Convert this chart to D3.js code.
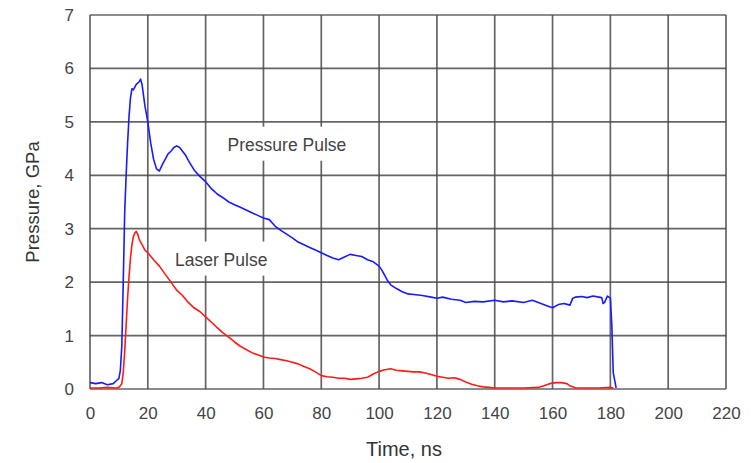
<!DOCTYPE html>
<html><head><meta charset="utf-8">
<script src="https://cdn.jsdelivr.net/npm/d3@7"></script>
<style>
html,body{margin:0;padding:0;background:#fff;}
svg{display:block;font-family:"Liberation Sans",Arial,sans-serif;}
</style></head>
<body><svg id="c" width="751" height="463"></svg>
<script>
const xTicks = [0,20,40,60,80,100,120,140,160,180,200,220];
const yTicks = [0,1,2,3,4,5,6,7];

const pressureT = [0,2,4,6,8,9,10,10.5,11,11.5,12,12.5,13,13.5,14,14.5,15,16,17,17.5,18,18.5,19,20,21,22,23,24,25,26,27,28,29,30,31,32,33,34,36,38,40,42,44,46,48,50,52,54,56,58,60,62,64,66,68,70,72,74,76,78,80,82,84,86,88,90,92,94,96,98,100,101,102,103,104,106,108,110,112,115,118,120,122,125,128,130,133,136,140,143,146,150,153,156,158,160,162,164,166,167,168,170,172,174,176,177,177.5,178,179,179.5,180,180.5,181,182];
const pressureP = [0.12,0.1,0.12,0.08,0.1,0.15,0.2,0.35,0.8,2.0,3.3,4.0,4.6,5.1,5.45,5.62,5.6,5.7,5.75,5.8,5.7,5.5,5.3,5.0,4.6,4.3,4.12,4.08,4.2,4.3,4.4,4.45,4.52,4.55,4.52,4.45,4.38,4.28,4.1,3.98,3.88,3.75,3.65,3.58,3.5,3.45,3.4,3.35,3.3,3.25,3.2,3.17,3.05,2.97,2.9,2.83,2.75,2.7,2.65,2.6,2.55,2.5,2.45,2.42,2.47,2.52,2.5,2.48,2.42,2.38,2.3,2.22,2.12,2.02,1.95,1.88,1.82,1.78,1.77,1.75,1.72,1.7,1.72,1.68,1.66,1.62,1.64,1.63,1.66,1.63,1.65,1.62,1.66,1.6,1.56,1.52,1.58,1.6,1.57,1.7,1.72,1.73,1.71,1.74,1.72,1.71,1.6,1.62,1.74,1.72,1.7,1.2,0.3,0.02,0];

const laserT = [0,3,6,9,10,11,11.5,12,12.5,13,13.5,14,14.5,15,15.5,16,16.5,17,18,19,20,22,24,26,28,30,32,34,36,38,40,42,44,46,48,50,52,54,56,58,60,62,64,66,68,70,72,74,76,78,80,82,84,86,88,90,92,94,96,98,100,102,104,106,108,110,112,114,116,118,120,122,124,126,128,130,132,134,136,138,140,145,150,155,157,159,161,163,165,166,168,172,176,180,181];
const laserP = [0.02,0.02,0.03,0.02,0.03,0.1,0.3,0.7,1.2,1.7,2.1,2.45,2.7,2.85,2.92,2.95,2.9,2.8,2.7,2.6,2.55,2.42,2.3,2.15,2.0,1.85,1.75,1.62,1.52,1.45,1.35,1.25,1.15,1.05,0.97,0.88,0.8,0.74,0.68,0.64,0.6,0.58,0.57,0.55,0.53,0.5,0.47,0.42,0.38,0.32,0.25,0.23,0.22,0.2,0.2,0.18,0.19,0.2,0.22,0.28,0.33,0.36,0.38,0.35,0.34,0.33,0.32,0.32,0.3,0.27,0.24,0.22,0.2,0.21,0.18,0.13,0.09,0.06,0.04,0.03,0.02,0.02,0.02,0.03,0.06,0.1,0.12,0.12,0.1,0.06,0.02,0.02,0.02,0.03,0.02];

const labelTexts = ["Pressure Pulse","Laser Pulse"];
const labelT = [47.6, 29.4];
const labelP = [4.46, 2.31];

const W=751,H=463, m={l:90,r:25,t:15,b:74};
const svg=d3.select("#c");
const x=d3.scaleLinear().domain([0,220]).range([m.l,W-m.r]);
const y=d3.scaleLinear().domain([0,7]).range([H-m.b,m.t]);
const gridC="#4a4a4a";

svg.append("g").selectAll("line").data(xTicks).join("line")
 .attr("x1",d=>x(d)).attr("x2",d=>x(d)).attr("y1",y(0)).attr("y2",y(7))
 .attr("stroke",gridC).attr("stroke-width",1.7).attr("stroke-opacity",0.85);
svg.append("g").selectAll("line").data(yTicks).join("line")
 .attr("x1",x(0)).attr("x2",x(220)).attr("y1",d=>y(d)).attr("y2",d=>y(d))
 .attr("stroke",gridC).attr("stroke-width",1.7).attr("stroke-opacity",0.85);

const xa=svg.append("g").attr("transform",`translate(0,${y(0)})`)
 .call(d3.axisBottom(x).tickValues(xTicks).tickFormat(d3.format("d")).tickSize(0).tickPadding(18));
const ya=svg.append("g").attr("transform",`translate(${x(0)},0)`)
 .call(d3.axisLeft(y).tickValues(yTicks).tickFormat(d3.format("d")).tickSize(0).tickPadding(16));
[xa,ya].forEach(a=>{a.select(".domain").remove();
 a.selectAll("text").attr("font-size",17).attr("fill","#444").attr("font-family","Liberation Sans, Arial, sans-serif");});

labelTexts.forEach((t,i)=>{
  const g=svg.append("g");
  const tx=g.append("text").attr("x",x(labelT[i])).attr("y",y(labelP[i]))
    .attr("font-size",17.5).attr("fill","#444").text(t);
  const bb=tx.node().getBBox();
  g.insert("rect","text").attr("x",bb.x-6).attr("y",bb.y-8).attr("width",bb.width+12).attr("height",bb.height+14).attr("fill","#fff");
});

const lineGen=(T,P)=>d3.line().x((d,i)=>x(T[i])).y((d,i)=>y(P[i]))(T);
svg.append("path").attr("d",lineGen(laserT,laserP)).attr("fill","none").attr("stroke","#ff1a1a").attr("stroke-width",1.6).attr("stroke-linejoin","round");
svg.append("path").attr("d",lineGen(pressureT,pressureP)).attr("fill","none").attr("stroke","#1a1aff").attr("stroke-width",1.6).attr("stroke-linejoin","round");

svg.append("text").attr("x",(x(0)+x(220))/2-4).attr("y",456).attr("text-anchor","middle")
 .attr("font-size",20).attr("fill","#333").text("Time, ns");
svg.append("text").attr("transform",`translate(39,${y(3.5)}) rotate(-90)`).attr("text-anchor","middle")
 .attr("font-size",18.5).attr("fill","#333").text("Pressure, GPa");
</script></body></html>
